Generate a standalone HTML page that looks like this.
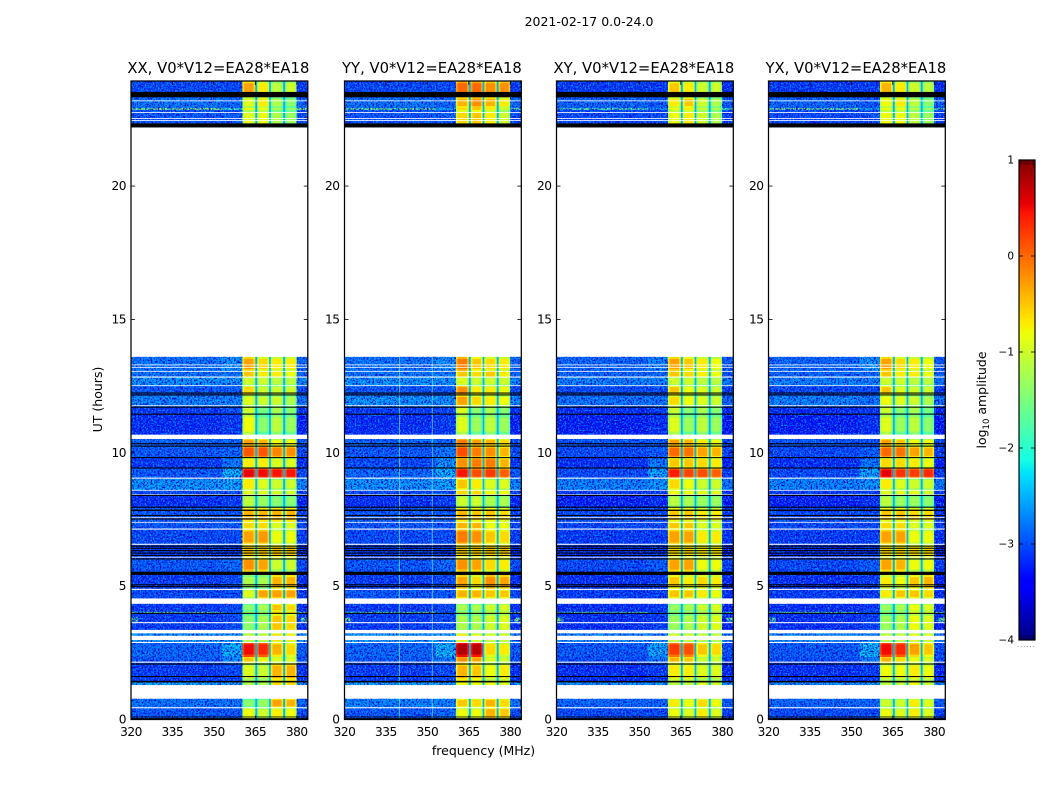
<!DOCTYPE html>
<html lang="en">
<head>
<meta charset="utf-8">
<title>2021-02-17 0.0-24.0</title>
<style>
html,body{margin:0;padding:0;background:#fff;}
svg{display:block;font-family:"DejaVu Sans","Liberation Sans",sans-serif;fill:#000;}
</style>
</head>
<body>
<svg id="chart" width="1050" height="800" viewBox="0 0 1050 800" xmlns="http://www.w3.org/2000/svg">
  <defs>
    <filter id="speckle-dark" x="0" y="0" width="100%" height="100%" color-interpolation-filters="sRGB">
      <feTurbulence type="fractalNoise" baseFrequency="0.55" numOctaves="2" seed="4"/>
      <feColorMatrix type="matrix" values="0 0 0 0 0  0 0 0 0 0  0 0 0 0 0.8  4 0 0 0 -1.7"/>
    </filter>
    <filter id="speckle-light" x="0" y="0" width="100%" height="100%" color-interpolation-filters="sRGB">
      <feTurbulence type="fractalNoise" baseFrequency="0.6" numOctaves="2" seed="17"/>
      <feColorMatrix type="matrix" values="0 0 0 0 0  0 0 0 0 0.6  0 0 0 0 1  4 0 0 0 -1.95"/>
    </filter>
    <linearGradient id="jet-gradient" x1="0" y1="1" x2="0" y2="0">
      <stop offset="0" stop-color="#000080"/>
      <stop offset="0.11" stop-color="#0000ff"/>
      <stop offset="0.125" stop-color="#0000ff"/>
      <stop offset="0.34" stop-color="#00dbff"/>
      <stop offset="0.35" stop-color="#00e5f7"/>
      <stop offset="0.375" stop-color="#14ffe3"/>
      <stop offset="0.64" stop-color="#eeff08"/>
      <stop offset="0.65" stop-color="#f7f500"/>
      <stop offset="0.66" stop-color="#ffec00"/>
      <stop offset="0.89" stop-color="#ff1300"/>
      <stop offset="0.91" stop-color="#e80000"/>
      <stop offset="1" stop-color="#800000"/>
    </linearGradient>
  </defs>
  <text x="589" y="26" font-size="12.5" text-anchor="middle">2021-02-17 0.0-24.0</text>
  <g id="panels"></g>
  <text transform="translate(102,399.5) rotate(-90)" font-size="12.5" text-anchor="middle">UT (hours)</text>
  <text x="483.5" y="755" font-size="12.5" text-anchor="middle">frequency (MHz)</text>
  <g>
    <rect x="1019" y="160" width="16" height="480" fill="url(#jet-gradient)"/>
    <rect x="1019" y="160" width="16" height="480" fill="none" stroke="#000" stroke-width="1.2"/>
    <g id="colorbar-ticks"></g>
    <text transform="translate(986,400) rotate(-90)" font-size="12.5" text-anchor="middle">log<tspan font-size="8.5" dy="3">10</tspan><tspan dy="-3"> amplitude</tspan></text>
    <text x="1017" y="647" font-size="7" fill="#777" letter-spacing="0.9">......</text>
  </g>
</svg>
<script>
// Time rows: start and end in UT hours
var rowStart = [0,0.45,1.29,1.45,2.12,2.35,2.9,3.25,4.0,4.05,4.54,4.88,5.42,5.55,6.05,6.55,7.14,7.4,7.95,8.42,8.6,9.05,9.42,9.82,10.25,10.68,11.45,11.75,12.15,12.52,12.85,13.05,22.2,22.87,22.94,23.33];
var rowEnd = [0.45,0.78,1.45,2.12,2.35,2.9,3.25,4.0,4.05,4.34,4.88,5.42,5.55,6.05,6.55,7.14,7.4,7.95,8.42,8.6,9.05,9.42,9.82,10.25,10.52,11.45,11.75,12.15,12.52,12.85,13.05,13.6,22.87,22.94,23.33,23.95];
// log10 amplitude per row: background, near-band, band1..band4
var ampXX = [
[-2.8,-2.8,-0.8,-1.0,-0.7,-0.8],[-2.6,-2.6,-1.4,-1.3,-0.3,-0.4],[-2.3,-2.3,-1.2,-1.2,-0.6,-0.6],[-3.0,-2.9,-0.9,-1.0,-0.4,-0.4],
[-2.8,-2.5,-0.5,-0.8,-0.9,-0.9],[-2.7,-2.2,0.5,0.35,-0.4,-0.6],[-2.4,-2.4,-1.0,-1.0,-0.6,-0.7],[-3.0,-2.9,-1.4,-1.2,-0.5,-0.6],
[-1.3,-2.6,-1.2,-1.2,-0.5,-0.6],[-3.0,-2.9,-1.4,-1.2,-0.5,-0.6],[-2.9,-2.9,-0.9,-0.3,-0.3,-0.3],[-3.0,-2.9,-1.2,-1.2,-0.4,-0.4],
[-3.0,-3.0,-0.9,-0.9,-0.5,-0.5],[-2.8,-2.7,-0.2,-0.3,-1.0,-1.0],[-3.0,-3.0,-0.5,-0.5,-0.5,-0.5],[-2.9,-2.9,-0.3,-0.25,-0.8,-0.8],
[-2.8,-2.8,-0.6,-0.6,-0.9,-0.9],[-2.8,-2.8,-0.4,-0.4,-0.4,-0.4],[-3.1,-3.0,-1.1,-1.3,-1.4,-1.4],[-2.9,-2.9,-0.9,-0.9,-1.0,-1.0],
[-2.4,-2.3,-0.7,-0.9,-1.0,-1.0],[-2.8,-2.2,0.55,0.5,0.45,0.45],[-3.0,-2.6,-0.7,-0.7,-0.9,-0.9],[-2.8,-2.7,0.1,0.1,-0.15,-0.2],
[-2.7,-2.7,-0.3,-0.4,-0.8,-0.8],[-3.1,-3.0,-0.8,-1.4,-1.1,-1.3],[-3.0,-2.9,-1.0,-1.5,-1.2,-1.4],[-2.5,-2.5,-0.9,-1.0,-1.0,-1.2],
[-2.8,-2.8,-0.6,-1.0,-1.0,-1.0],[-2.4,-2.4,-1.0,-1.0,-1.1,-1.1],[-2.6,-2.6,-0.5,-0.7,-0.7,-0.8],[-2.6,-2.4,-0.3,-0.6,-0.7,-0.7],
[-2.8,-2.8,-0.9,-0.8,-1.2,-1.3],[-1.2,-1.8,-0.8,-0.8,-1.2,-1.3],[-2.6,-2.7,-0.9,-0.7,-1.2,-1.4],[-2.9,-2.9,-0.3,-0.7,-1.1,-1.0]];
var ampYY = [
[-2.8,-2.7,-0.8,-0.8,-0.4,-0.5],[-2.5,-2.5,-0.5,-0.6,-0.4,-0.6],[-2.3,-2.3,-0.8,-0.8,-0.8,-0.9],[-3.0,-2.9,-0.4,-0.5,-0.8,-0.7],
[-2.8,-2.6,-0.2,-0.3,-0.9,-1.0],[-2.7,-2.2,0.8,0.75,-0.6,-0.7],[-2.4,-2.3,-0.7,-0.8,-0.9,-0.9],[-3.0,-2.9,-1.2,-1.2,-1.0,-0.9],
[-1.4,-2.7,-1.2,-1.2,-1.0,-0.9],[-3.0,-2.9,-1.2,-1.2,-1.0,-0.9],[-2.8,-2.8,-0.4,-0.4,-0.5,-0.5],[-3.0,-2.9,-0.3,-0.6,-0.2,-0.3],
[-3.0,-3.0,-0.5,-0.6,-0.4,-0.4],[-2.8,-2.7,-0.2,-0.3,-0.6,-0.7],[-3.0,-3.0,-0.5,-0.5,-0.5,-0.5],[-2.9,-2.9,-0.1,-0.2,-0.5,-0.6],
[-2.8,-2.8,-0.4,-0.4,-0.8,-0.8],[-2.8,-2.8,-0.4,-0.5,-0.5,-0.6],[-3.1,-3.0,-1.0,-1.0,-1.2,-1.2],[-2.9,-2.9,-0.6,-0.6,-0.8,-0.8],
[-2.4,-2.3,-0.5,-0.7,-0.9,-0.9],[-2.7,-2.2,0.45,0.15,0.25,0.05],[-2.9,-2.4,-0.2,-0.1,-0.1,-0.4],[-2.8,-2.6,0.15,-0.1,-0.2,-0.4],
[-2.7,-2.7,-0.1,-0.3,-0.4,-0.6],[-3.1,-3.0,-0.9,-1.3,-1.1,-1.3],[-3.0,-2.9,-0.9,-1.4,-1.2,-1.4],[-2.4,-2.4,-0.3,-0.6,-0.7,-0.8],
[-2.8,-2.8,-0.2,-0.7,-0.7,-0.8],[-2.4,-2.4,-0.9,-1.0,-1.0,-1.0],[-2.6,-2.6,-0.5,-0.6,-0.5,-0.7],[-2.6,-2.4,-0.1,-0.5,-0.6,-0.7],
[-2.8,-2.8,-0.6,-0.5,-0.7,-1.0],[-1.4,-2.3,-0.6,-0.5,-0.7,-1.0],[-2.6,-2.7,-0.4,-0.2,-0.4,-0.7],[-2.9,-2.9,0.0,0.0,-0.2,-0.2]];
var ampXY = [
[-2.9,-2.9,-0.8,-0.9,-0.7,-0.9],[-2.7,-2.7,-0.7,-0.8,-0.6,-0.8],[-2.4,-2.4,-1.1,-1.1,-0.9,-1.0],[-3.1,-3.0,-0.7,-0.7,-0.9,-0.9],
[-2.9,-2.6,-0.4,-0.5,-1.0,-1.0],[-2.8,-2.3,0.25,0.15,-0.5,-0.6],[-2.5,-2.5,-0.9,-0.9,-1.0,-1.0],[-3.1,-3.0,-1.3,-1.2,-1.0,-0.9],
[-1.5,-2.8,-1.3,-1.2,-1.0,-0.9],[-3.1,-3.0,-1.3,-1.2,-1.0,-0.9],[-3.0,-3.0,-0.5,-0.5,-0.7,-0.8],[-3.1,-3.0,-0.5,-0.7,-0.6,-0.7],
[-3.1,-3.1,-0.6,-0.7,-0.7,-0.7],[-2.9,-2.8,-0.3,-0.3,-0.8,-0.8],[-3.1,-3.0,-0.6,-0.6,-0.7,-0.7],[-3.0,-3.0,-0.3,-0.3,-0.7,-0.7],
[-2.9,-2.9,-0.5,-0.5,-0.9,-0.9],[-2.9,-2.9,-0.5,-0.5,-0.7,-0.7],[-3.2,-3.1,-1.1,-1.2,-1.3,-1.3],[-3.0,-3.0,-0.8,-0.8,-0.9,-0.9],
[-2.5,-2.4,-0.6,-0.8,-1.0,-1.0],[-2.9,-2.3,0.4,0.2,0.15,0.05],[-3.1,-2.6,-0.5,-0.5,-0.6,-0.7],[-2.9,-2.8,0.0,-0.05,-0.3,-0.4],
[-2.8,-2.8,-0.3,-0.4,-0.7,-0.8],[-3.2,-3.1,-0.9,-1.3,-1.1,-1.3],[-3.1,-3.0,-1.0,-1.4,-1.2,-1.4],[-2.6,-2.6,-0.6,-0.8,-0.9,-1.0],
[-2.9,-2.9,-0.5,-0.8,-0.9,-1.0],[-2.5,-2.5,-1.0,-1.0,-1.1,-1.1],[-2.7,-2.7,-0.5,-0.6,-0.7,-0.8],[-2.7,-2.5,-0.3,-0.5,-0.7,-0.8],
[-2.9,-2.9,-0.8,-0.7,-1.0,-1.2],[-1.6,-2.4,-0.8,-0.7,-1.0,-1.2],[-2.7,-2.8,-0.7,-0.5,-1.0,-1.2],[-3.0,-3.0,-0.5,-0.7,-1.0,-1.0]];
var ampYX = [
[-2.9,-2.9,-0.8,-0.9,-0.7,-0.9],[-2.7,-2.7,-1.0,-1.0,-0.7,-0.9],[-2.4,-2.4,-1.1,-1.1,-0.8,-1.0],[-3.1,-3.0,-0.8,-0.8,-0.7,-0.8],
[-2.9,-2.6,-0.4,-0.6,-0.8,-0.9],[-2.8,-2.2,0.5,0.35,-0.3,-0.5],[-2.5,-2.5,-1.0,-1.0,-0.8,-0.9],[-3.1,-3.0,-1.3,-1.2,-0.8,-0.9],
[-1.4,-2.8,-1.3,-1.2,-0.8,-0.9],[-3.1,-3.0,-1.3,-1.2,-0.8,-0.9],[-3.0,-3.0,-0.7,-0.5,-0.5,-0.6],[-3.1,-3.0,-0.7,-0.8,-0.5,-0.4],
[-3.1,-3.1,-0.7,-0.8,-0.6,-0.6],[-2.9,-2.8,-0.3,-0.4,-0.8,-0.8],[-3.1,-3.0,-0.6,-0.6,-0.6,-0.6],[-3.0,-3.0,-0.3,-0.3,-0.8,-0.8],
[-2.9,-2.9,-0.6,-0.6,-0.9,-0.9],[-2.9,-2.9,-0.5,-0.5,-0.6,-0.6],[-3.2,-3.1,-1.1,-1.3,-1.3,-1.4],[-3.0,-3.0,-0.9,-0.9,-0.9,-1.0],
[-2.5,-2.4,-0.7,-0.9,-1.0,-1.0],[-2.9,-2.3,0.55,0.3,0.25,0.35],[-3.1,-2.6,-0.6,-0.6,-0.7,-0.8],[-2.9,-2.8,0.0,-0.05,-0.3,-0.4],
[-2.8,-2.8,-0.3,-0.5,-0.8,-0.8],[-3.2,-3.1,-0.9,-1.3,-1.1,-1.4],[-3.1,-3.0,-1.0,-1.4,-1.2,-1.5],[-2.5,-2.6,-0.8,-0.9,-1.0,-1.2],
[-2.9,-2.9,-0.5,-0.9,-1.0,-1.0],[-2.5,-2.5,-1.0,-1.0,-1.1,-1.1],[-2.7,-2.7,-0.5,-0.7,-0.7,-0.8],[-2.7,-2.4,-0.3,-0.6,-0.7,-0.8],
[-2.9,-2.9,-0.8,-0.8,-1.1,-1.3],[-1.4,-2.2,-0.8,-0.8,-1.1,-1.3],[-2.7,-2.8,-0.8,-0.7,-1.1,-1.4],[-3.0,-3.0,-0.4,-0.7,-1.0,-1.1]];

var panelTitles = ["XX, V0*V12=EA28*EA18","YY, V0*V12=EA28*EA18","XY, V0*V12=EA28*EA18","YX, V0*V12=EA28*EA18"];
var panelAmps = [ampXX, ampYY, ampXY, ampYX];
var panelLefts = [131, 344.5, 556.5, 768.5];

// Frequency columns (MHz): column edges and which amplitude slot each uses
var freqEdges = [320,353,360.3,365,365.7,370,370.6,375.1,375.8,380,384];
var freqSlots = [0,1,2,"gap",3,"gap",4,"gap",5,0];
var gapLevel = -2.5;
var backgroundShift = -0.1;
var bandEdgeDrop = 0.3;

// Hours with no data (white) and flagged rows (black)
var whiteStart = [0.42,0.78,2.13,2.87,2.98,3.23,3.61,4.34,4.86,6.07,6.55,7.12,7.38,7.55,8.4,8.58,9.03,10.52,11.75,12.5,12.82,13.04,13.19,13.28,13.6,22.44,22.52,22.74,23.18];
var whiteEnd = [0.46,1.29,2.17,2.91,3.14,3.36,3.65,4.54,4.9,6.1,6.59,7.16,7.41,7.58,8.44,8.61,9.07,10.68,11.78,12.53,12.86,13.07,13.22,13.31,22.2,22.47,22.55,22.77,23.21];
var blackStart = [0,0.08,1.39,1.59,2.06,3.96,4.96,5.03,5.42,6.0,6.13,6.22,6.31,6.4,6.48,7.5,7.63,7.82,7.94,8.38,9.41,9.8,10.23,10.32,11.43,11.69,12.15,12.22,22.2,23.33];
var blackEnd = [0.05,0.11,1.45,1.63,2.1,4.0,5.0,5.07,5.54,6.04,6.17,6.26,6.35,6.44,6.52,7.54,7.67,7.87,7.98,8.42,9.45,9.84,10.27,10.36,11.47,11.73,12.19,12.26,22.35,23.53];

// Narrow features: persistent interference channels per panel (MHz)
var rfiXX = [];
var rfiYY = [339.7,351.6];
var rfiXY = [];
var rfiYX = [];
var rfiChannels = [rfiXX, rfiYY, rfiXY, rfiYX];

// Bright spot at the band edges around 3.75 h
var edgeSpotStart = [3.68];
var edgeSpotEnd = [3.82];
var edgeSpotLevel = [-1.5];

var xTicks = [320,335,350,365,380];
var yTicks = [0,5,10,15,20];
var cbarTicks = [1,0,-1,-2,-3,-4];
var cbarMinorOffsets = [2,5,8,11,14];

var PANEL_W = 176.8, PLOT_TOP = 81, PLOT_BOTTOM = 719.5;
var FMIN = 320, FMAX = 384, TMAX = 23.94;
var NS = "http://www.w3.org/2000/svg";

function xScale(freq, left) { return left + (freq - FMIN) / (FMAX - FMIN) * PANEL_W; }
function yScale(hour) { return PLOT_BOTTOM - hour / TMAX * (PLOT_BOTTOM - PLOT_TOP); }
function cbarY(v) { return 640 - (v + 4) / 5 * 480; }
function lerp(t, pts) {
  for (var i = 1; i < pts.length; i++) {
    if (t <= pts[i][0]) {
      return pts[i - 1][1] + (pts[i][1] - pts[i - 1][1]) * (t - pts[i - 1][0]) / (pts[i][0] - pts[i - 1][0]);
    }
  }
  return pts[pts.length - 1][1];
}
var jetR = [[0,0],[0.35,0],[0.66,1],[0.89,1],[1,0.5]];
var jetG = [[0,0],[0.125,0],[0.375,1],[0.64,1],[0.91,0],[1,0]];
var jetB = [[0,0.5],[0.11,1],[0.34,1],[0.65,0],[1,0]];
function jet(v) {
  var t = Math.max(0, Math.min(1, (v + 4) / 5));
  return "rgb(" + Math.round(255 * lerp(t, jetR)) + "," + Math.round(255 * lerp(t, jetG)) + "," + Math.round(255 * lerp(t, jetB)) + ")";
}
function make(tag, parent, attrs) {
  var el = document.createElementNS(NS, tag);
  for (var k in attrs) el.setAttribute(k, attrs[k]);
  parent.appendChild(el);
  return el;
}
function drawCell(g, x0, x1, y0, y1, value) {
  var cell = make("rect", g, { x: x0, y: y0, width: x1 - x0 + 0.3, height: y1 - y0 + 0.3, fill: jet(value) });
  
  
}

var panelsRoot = document.getElementById("panels");
panelTitles.forEach(function (title, p) {
  var left = panelLefts[p];
  var right = left + PANEL_W;
  var amps = panelAmps[p];
  var g = make("g", panelsRoot, {});
  
  

  // Heatmap cells: band columns roll off towards their edges
  rowStart.forEach(function (start, r) {
    var y0 = yScale(rowEnd[r]), y1 = yScale(start);
    var h = y1 - y0;
    for (var c = 0; c < freqSlots.length; c++) {
      var slot = freqSlots[c];
      var x0 = xScale(freqEdges[c], left), x1 = xScale(freqEdges[c + 1], left);
      var w = x1 - x0;
      if (slot === "gap") {
        drawCell(g, x0, x1, y0, y1, gapLevel);
      } else if (slot < 2) {
        drawCell(g, x0, x1, y0, y1, amps[r][slot] + backgroundShift * (c === freqSlots.length - 1 ? 2 : 1));
      } else {
        var v = amps[r][slot];
        var vEdge = h > 6 ? h * 0.15 : 0;
        var hEdge = w * 0.14;
        var xs = [x0, x0 + hEdge, x1 - hEdge, x1];
        var ys = [y0, y0 + vEdge, y1 - vEdge, y1];
        for (var i = 0; i < 3; i++) {
          for (var j = 0; j < 3; j++) {
            if (ys[j + 1] <= ys[j]) continue;
            var drop = (i === 1 ? 0 : bandEdgeDrop) + (j === 1 ? 0 : bandEdgeDrop);
            drawCell(g, xs[i], xs[i + 1], ys[j], ys[j + 1], v - drop);
          }
        }
      }
    }
  });

  // Bright spots at the edges of the frequency range
  edgeSpotStart.forEach(function (s, i) {
    [[320, 322.5], [381.5, 384]].forEach(function (range) {
      drawCell(g, xScale(range[0], left), xScale(range[1], left), yScale(edgeSpotEnd[i]), yScale(s), edgeSpotLevel[i]);
    });
  });

  // Receiver noise grain on the out-of-band regions
  [[FMIN, 360.3], [380, FMAX]].forEach(function (range) {
    ["speckle-dark", "speckle-light"].forEach(function (fid) {
      var n = make("rect", g, { x: xScale(range[0], left), y: PLOT_TOP, width: xScale(range[1], left) - xScale(range[0], left), height: PLOT_BOTTOM - PLOT_TOP, filter: "url(#" + fid + ")" });
      
      
    });
  });

  // Interference channels
  rfiChannels[p].forEach(function (freq) {
    var rfi = make("rect", g, { x: xScale(freq, left), y: yScale(13.6), width: 1, height: yScale(0) - yScale(13.6), fill: "#6fe9f5", opacity: 0.7 });
    
    
  });

  // Missing-data and flagged rows
  whiteStart.forEach(function (s, i) {
    var w = make("rect", g, { x: left, y: yScale(whiteEnd[i]), width: PANEL_W, height: yScale(s) - yScale(whiteEnd[i]), fill: "#fff" });
    
    
  });
  blackStart.forEach(function (s, i) {
    var b = make("rect", g, { x: left, y: yScale(blackEnd[i]), width: PANEL_W, height: yScale(s) - yScale(blackEnd[i]), fill: "#000" });
    
    
  });

  // Frame
  var frame = make("rect", g, { x: left, y: PLOT_TOP, width: PANEL_W, height: PLOT_BOTTOM - PLOT_TOP, fill: "none", stroke: "#000", "stroke-width": 1.25 });
  
  

  // X ticks
  xTicks.forEach(function (f) {
    var x = xScale(f, left);
    [[PLOT_BOTTOM, PLOT_BOTTOM - 4], [PLOT_TOP, PLOT_TOP + 4]].forEach(function (pair) {
      var t = make("line", g, { x1: x, x2: x, y1: pair[0], y2: pair[1], stroke: "#000", "stroke-width": 0.8 });
      
      
    });
    var lbl = make("text", g, { x: x, y: 736, "font-size": 12.2, "text-anchor": "middle", "letter-spacing": -0.5 });
    lbl.textContent = String(f);
    
    
  });

  // Y ticks
  yTicks.forEach(function (h) {
    var y = yScale(h);
    [[left, left + 4], [right, right - 4]].forEach(function (pair) {
      var t = make("line", g, { x1: pair[0], x2: pair[1], y1: y, y2: y, stroke: "#000", "stroke-width": 0.8 });
      
      
    });
    var lbl = make("text", g, { x: left - 5, y: y + 4, "font-size": 12.2, "text-anchor": "end", "letter-spacing": -0.5 });
    lbl.textContent = String(h);
    
    
  });

  // Title
  var ttl = make("text", g, { x: left + PANEL_W / 2 - 1, y: 73, "font-size": 14.8, "text-anchor": "middle" });
  ttl.textContent = title;
  
  
});

// Colorbar ticks
var cbarRoot = document.getElementById("colorbar-ticks");
cbarTicks.forEach(function (v) {
  var y = cbarY(v);
  [[1019, 1023], [1035, 1031]].forEach(function (pair) {
    var t = make("line", cbarRoot, { x1: pair[0], x2: pair[1], y1: y, y2: y, stroke: "#000", "stroke-width": 0.8 });
    
    
  });
  var lbl = make("text", cbarRoot, { x: 1014, y: y + 3.5, "font-size": 10.5, "text-anchor": "end" });
  lbl.textContent = v < 0 ? "\u2212" + Math.abs(v) : String(v);
  
  
});
[[640, 635], [160, 165]].forEach(function (span) {
  cbarMinorOffsets.forEach(function (dx) {
    var m = make("line", cbarRoot, { x1: 1019 + dx, x2: 1019 + dx, y1: span[0], y2: span[1], stroke: "#000", "stroke-width": 0.6 });
    
    
  });
});
</script>
</body>
</html>
